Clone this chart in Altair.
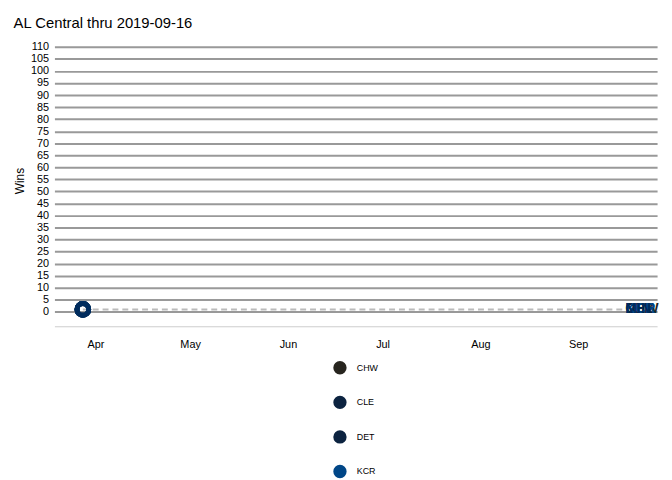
import altair as alt
import pandas as pd

teams = ["CHW", "CLE", "DET", "KCR", "MIN"]
team_colors = ["#27251F", "#0C2340", "#0C2340", "#004687", "#002B5C"]
start_dates = ["2019-03-28"] * 5
start_wins = [1, 1, 1, 1, 1]
end_date = "2019-09-16"
end_wins = [1, 1, 1, 1, 1]

pts = pd.DataFrame({"team": teams, "date": start_dates, "wins": start_wins})
ends = pd.DataFrame({"team": teams, "date": [end_date] * 5, "wins": end_wins})
pace = pd.DataFrame({"date": ["2019-03-28", end_date], "wins": [1, 1]})

color = alt.Color(
    "team:N",
    scale=alt.Scale(domain=teams, range=team_colors),
    legend=alt.Legend(
        title=None, orient="none", legendX=282, legendY=330, direction="vertical",
        symbolType="circle", symbolSize=90, symbolStrokeWidth=4, symbolFillColor="white",
        labelFontSize=9, rowPadding=9, labelOffset=10,
    ),
)
x = alt.X(
    "date:T",
    title=None,
    scale=alt.Scale(type="utc", domain=["2019-03-19", "2019-09-26"]),
    axis=alt.Axis(format="%b", tickCount={"interval": "month", "step": 1}, grid=False,
                  ticks=False, domainColor="#ccc", labelPadding=12, labelFontSize=11),
)
y = alt.Y(
    "wins:Q",
    title="Wins",
    scale=alt.Scale(domain=[-6, 115], nice=False),
    axis=alt.Axis(values=list(range(0, 111, 5)), gridColor="#999", gridWidth=2,
                  domain=False, ticks=False, labelFontSize=11, titleFontSize=12,
                  titleFontWeight="normal", labelPadding=6),
)

line = alt.Chart(pace).mark_line(color="#bbb", strokeDash=[6, 4], strokeWidth=2).encode(x=x, y=y)
points = alt.Chart(pts).mark_point(filled=False, size=140, strokeWidth=5, opacity=1).encode(
    x=x, y=y, color=color
)
labels = alt.Chart(ends).mark_text(align="left", fontWeight="bold", fontSize=14).encode(
    x=x, y=y, text="team:N",
    color=alt.Color("team:N", scale=alt.Scale(domain=teams, range=team_colors), legend=None),
)

chart = (
    alt.layer(line, points, labels)
    .properties(width=610, height=295,
                title=alt.TitleParams("AL Central thru 2019-09-16", anchor="start", fontSize=15,
                                      fontWeight="normal", offset=4, dx=0))
    .configure(font="Liberation Sans")
    .configure_view(stroke=None)
)
chart.save("out.html", embed_options={"renderer": "svg", "actions": False})
